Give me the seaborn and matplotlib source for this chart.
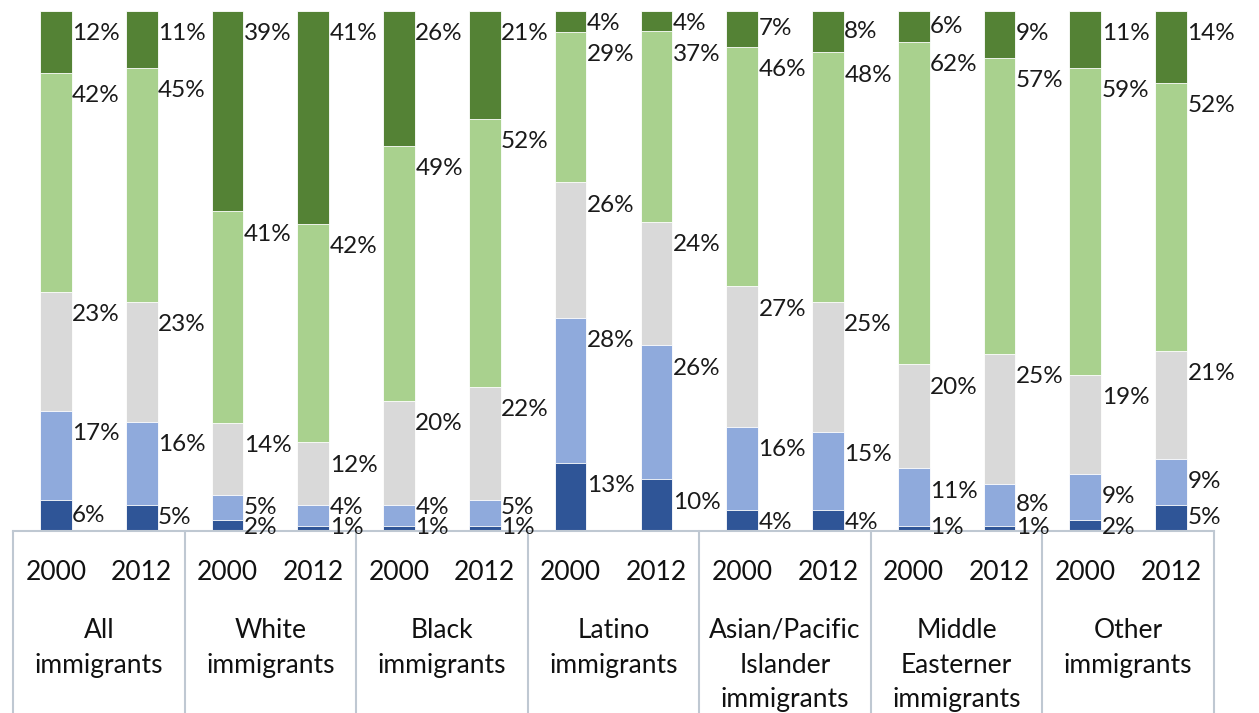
import matplotlib
matplotlib.use('Agg')
import matplotlib.pyplot as plt
import numpy as np
import pandas as pd
import seaborn as sns

# Groups of immigrants, each with a 2000 and a 2012 bar
groups = ['All\nimmigrants', 'White\nimmigrants', 'Black\nimmigrants', 'Latino\nimmigrants',
          'Asian/Pacific\nIslander\nimmigrants', 'Middle\nEasterner\nimmigrants', 'Other\nimmigrants']
years = ['2000', '2012']

# Shares per bar, bottom segment first (dark blue, light blue, grey, light green, dark green)
seg1 = [6, 5, 2, 1, 1, 1, 13, 10, 4, 4, 1, 1, 2, 5]
seg2 = [17, 16, 5, 4, 4, 5, 28, 26, 16, 15, 11, 8, 9, 9]
seg3 = [23, 23, 14, 12, 20, 22, 26, 24, 27, 25, 20, 25, 19, 21]
seg4 = [42, 45, 41, 42, 49, 52, 29, 37, 46, 48, 62, 57, 59, 52]
seg5 = [12, 11, 39, 41, 26, 21, 4, 4, 7, 8, 6, 9, 11, 14]

colors = ['#2F5597', '#8FAADC', '#D9D9D9', '#A9D18E', '#548235']

sns.set_theme(style='white')
plt.rcParams['font.family'] = ['Lato', 'DejaVu Sans']

segs = np.array([seg1, seg2, seg3, seg4, seg5], dtype=float)
shares = segs / segs.sum(axis=0) * 100  # 100% stacked
tops = np.cumsum(shares, axis=0)

slots = [f'{g.split(chr(10))[0]} {y}' for g in groups for y in years]
df = pd.DataFrame({'slot': slots})
for k in range(5):
    df[f'top{k}'] = tops[k]

fig = plt.figure(figsize=(12.59, 7.13), dpi=100)
ax = fig.add_axes([13 / 1259, 182.3 / 713, 1201 / 1259, 520 / 713])

bar_w = 0.37
# draw the cumulative layers from the top down so each lower one covers the rest
for k in range(4, -1, -1):
    sns.barplot(data=df, x='slot', y=f'top{k}', order=slots, color=colors[k],
                saturation=1, width=bar_w, edgecolor='white', linewidth=0.6, ax=ax)

ax.set_xlim(-0.5, len(slots) - 0.5)
ax.set_ylim(0, 100)
ax.set_xticks([])
ax.set_yticks([])
ax.set_xlabel('')
ax.set_ylabel('')
for side in ['top', 'left', 'right']:
    ax.spines[side].set_visible(False)
ax.spines['bottom'].set_color('#BFC8D2')
ax.spines['bottom'].set_linewidth(1.5)

# value labels to the right of each segment
for i in range(len(slots)):
    prev = -10
    for k in range(5):
        v = shares[k, i]
        off = min(4.4, max(2.4, 0.5 * v))
        y = max(tops[k, i] - off, 0.7)
        y = max(y, prev + 3.8)
        prev = y
        ax.text(i + bar_w / 2 + 0.005, y, f'{int(segs[k, i])}%', ha='left', va='center',
                fontsize=17.5, color='#1a1a1a')

# category axis: group separators, years and group names
trans = ax.get_xaxis_transform()
for b in np.arange(-0.5, len(slots), 2):
    ax.plot([b, b], [0, -0.5], transform=trans, color='#BFC8D2', lw=1.5, clip_on=False)

for i, s in enumerate(slots):
    ax.text(i, -0.0948, s.split(' ')[-1], transform=trans, ha='center', va='baseline',
            fontsize=19, color='#111111')

for j, g in enumerate(groups):
    for n, line in enumerate(g.split('\n')):
        ax.text(2 * j + 0.5, -0.2063 - 0.0667 * n, line, transform=trans, ha='center',
                va='baseline', fontsize=19, color='#111111')

fig.savefig('out.png', dpi=100)
